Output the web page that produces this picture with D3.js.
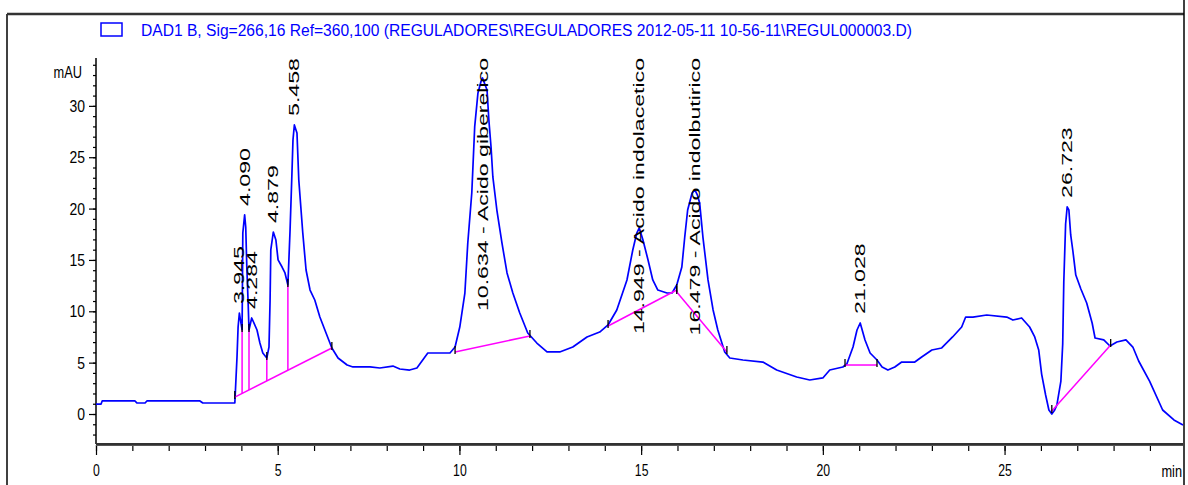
<!DOCTYPE html>
<html>
<head>
<meta charset="utf-8">
<script src="https://cdn.jsdelivr.net/npm/d3@7"></script>
<style>
  body { margin: 0; background: #fff; }
  svg { display: block; }
</style>
</head>
<body>
<svg id="chart" width="1188" height="485"></svg>
<script>
// Chromatogram signal: retention time (min) and absorbance (mAU)
const times = [
  0.00, 0.14, 0.17, 1.07, 1.13, 1.35, 1.40, 2.86, 2.94, 3.77,
  3.82, 3.85, 3.88, 3.91, 3.945, 4.02, 4.04, 4.090, 4.12, 4.15,
  4.19, 4.21, 4.284, 4.43, 4.51, 4.59, 4.70, 4.76, 4.79, 4.81,
  4.879, 4.95, 5.01, 5.12, 5.20, 5.28, 5.34, 5.39, 5.42, 5.458,
  5.53, 5.58, 5.69, 5.78, 5.89, 6.02, 6.16, 6.33, 6.49, 6.66,
  6.91, 7.07, 7.54, 7.81, 8.17, 8.36, 8.63, 8.83, 8.99, 9.13,
  9.74, 9.88, 10.01, 10.15, 10.23, 10.34, 10.42, 10.51, 10.59, 10.634,
  10.76, 10.81, 10.87, 10.92, 11.03, 11.17, 11.31, 11.47, 11.66, 11.88,
  12.13, 12.41, 12.76, 13.12, 13.51, 13.86, 14.09, 14.33, 14.61, 14.77,
  14.88, 14.949, 15.05, 15.19, 15.32, 15.46, 15.71, 15.85, 15.98, 16.12,
  16.20, 16.28, 16.40, 16.479, 16.55, 16.61, 16.70, 16.84, 16.98, 17.11,
  17.30, 17.44, 17.80, 18.35, 18.73, 19.28, 19.64, 20.00, 20.19, 20.55,
  20.66, 20.83, 20.94, 21.028, 21.16, 21.30, 21.49, 21.63, 21.79, 21.98,
  22.17, 22.53, 22.72, 23.00, 23.27, 23.57, 23.82, 23.93, 24.13, 24.51,
  25.06, 25.23, 25.47, 25.69, 25.83, 25.94, 26.02, 26.13, 26.22, 26.30,
  26.38, 26.44, 26.55, 26.60, 26.63, 26.68, 26.723, 26.77, 26.82, 26.88,
  26.96, 27.10, 27.26, 27.41, 27.49, 27.73, 27.90, 28.09, 28.34, 28.53,
  28.69, 28.99, 29.35, 29.66, 29.91
];
const mAU = [
  0.97, 0.97, 1.27, 1.27, 1.07, 1.07, 1.27, 1.27, 1.07, 1.07,
  1.07, 3.31, 5.55, 8.47, 9.83, 8.18, 17.62, 19.38, 18.21, 14.31,
  10.42, 8.18, 9.35, 8.18, 6.91, 5.94, 5.45, 6.52, 11.10, 15.97,
  17.72, 16.94, 15.00, 14.31, 13.73, 12.56, 17.92, 23.27, 26.68, 28.14,
  27.36, 22.78, 17.62, 14.02, 12.07, 11.10, 9.44, 7.89, 6.43, 5.45,
  4.77, 4.58, 4.58, 4.48, 4.67, 4.38, 4.28, 4.48, 5.26, 5.94,
  5.94, 6.52, 8.47, 11.78, 16.65, 21.52, 27.95, 31.26, 32.33, 32.72,
  31.55, 28.63, 26.00, 23.08, 19.86, 16.65, 13.73, 11.78, 9.83, 7.89,
  6.91, 6.04, 6.04, 6.52, 7.50, 7.98, 8.67, 10.13, 13.05, 15.97,
  17.62, 18.11, 16.94, 15.00, 13.05, 12.07, 11.78, 11.78, 12.56, 14.31,
  17.23, 19.86, 21.50, 21.81, 21.30, 20.55, 17.23, 13.05, 10.13, 8.18,
  6.04, 5.45, 5.26, 5.06, 4.28, 3.60, 3.31, 3.51, 4.28, 4.58,
  4.87, 6.52, 8.18, 8.86, 7.21, 5.94, 5.26, 4.58, 4.28, 4.58,
  5.06, 5.06, 5.55, 6.23, 6.43, 7.50, 8.47, 9.44, 9.44, 9.64,
  9.44, 9.15, 9.35, 8.47, 7.50, 6.23, 3.89, 1.85, 0.39, 0.00,
  0.39, 0.88, 3.21, 6.82, 12.85, 18.50, 20.16, 19.86, 17.43, 15.87,
  13.53, 12.17, 10.81, 8.86, 7.40, 7.21, 6.62, 7.01, 7.21, 6.52,
  5.16, 3.21, 0.39, -0.58, -1.07
];

// Integrated peaks: retention time and compound name
const peakTimes = [3.945, 4.090, 4.284, 4.879, 5.458, 10.634, 14.949, 16.479, 21.028, 26.723];
const peakNames = ["", "", "", "", "", "Acido giberelico", "Acido indolacetico", "Acido indolbutirico", "", ""];

// Integration baselines: [start time, start mAU] and [end time, end mAU]
const baselineStart = [[3.82, 1.65], [9.88, 6.04], [14.09, 8.57], [15.98, 11.88], [20.61, 4.77], [26.30, 0.29]];
const baselineEnd   = [[6.49, 6.43], [11.94, 7.60], [15.98, 12.07], [17.36, 6.04], [21.49, 4.77], [27.92, 6.72]];
// Valley drop lines inside the first (unresolved) group
const dropTimes = [4.02, 4.21, 4.70, 5.28];

const xTicks = [0, 5, 10, 15, 20, 25];
const yTicks = [0, 5, 10, 15, 20, 25, 30];
const legendText = "DAD1 B, Sig=266,16 Ref=360,100 (REGULADORES\\REGULADORES 2012-05-11 10-56-11\\REGUL000003.D)";

const svg = d3.select("#chart");
const H = 485;
const plot = { left: 96, right: 1183, top: 58, bottom: 444 };

const x = d3.scaleLinear().domain([0, 29.91]).range([plot.left, plot.right]);
const y = d3.scaleLinear().domain([-2.92, 34.66]).range([plot.bottom, plot.top]);

const BLUE = "#0000ff", MAGENTA = "#ff00ff";
const sans = "'Liberation Sans',Arial,sans-serif";

// squeeze text horizontally to a condensed look
function condense(sel, factor) {
  sel.each(function () {
    const n = this;
    const w = n.getComputedTextLength();
    if (w > 0) {
      n.setAttribute("textLength", w * factor);
      n.setAttribute("lengthAdjust", "spacingAndGlyphs");
    }
  });
}

const signal = times.map((t, i) => [t, mAU[i]]);
const bis = d3.bisector(d => d[0]).left;
function valueAt(t) {
  const i = bis(signal, t);
  if (i <= 0) return signal[0][1];
  if (i >= signal.length) return signal[signal.length - 1][1];
  const a = signal[i - 1], b = signal[i];
  return a[1] + (b[1] - a[1]) * (t - a[0]) / (b[0] - a[0]);
}

// Outer frame
svg.append("line").attr("x1", 7).attr("x2", 7).attr("y1", 14).attr("y2", H)
  .attr("stroke", "#000").attr("stroke-width", 1.5);
svg.append("line").attr("x1", 7).attr("x2", 1184).attr("y1", 14).attr("y2", 14)
  .attr("stroke", "#333").attr("stroke-width", 2.5);
svg.append("line").attr("x1", 1184).attr("x2", 1184).attr("y1", 0).attr("y2", H)
  .attr("stroke", "#000").attr("stroke-width", 1.5);

// Legend
svg.append("rect").attr("x", 101).attr("y", 23).attr("width", 21).attr("height", 13)
  .attr("fill", "none").attr("stroke", BLUE).attr("stroke-width", 1.5);
svg.append("text").attr("x", 141).attr("y", 36)
  .attr("font-family", sans).attr("font-size", 16).attr("fill", BLUE)
  .attr("textLength", 771).attr("lengthAdjust", "spacingAndGlyphs")
  .text(legendText);

// Y axis: minor ticks every 1 mAU, labelled every 5
const yMinor = d3.range(-2, 35, 1);
svg.append("g").attr("transform", `translate(${plot.left},0)`)
  .call(d3.axisLeft(y).tickValues(yMinor).tickSize(3).tickFormat(""))
  .call(g => g.select(".domain").remove())
  .call(g => g.selectAll("line").attr("stroke", "#000").attr("stroke-width", 1.2));
const gy = svg.append("g").attr("transform", `translate(${plot.left},0)`)
  .call(d3.axisLeft(y).tickValues(yTicks).tickSize(7).tickPadding(4).tickFormat(d3.format("d")));
gy.select(".domain").remove();
gy.selectAll("line").attr("stroke", "#000").attr("stroke-width", 1.2);
gy.selectAll("text").attr("font-family", sans).attr("font-size", 17).attr("fill", "#000")
  .call(condense, 0.82);
svg.append("line").attr("x1", plot.left).attr("x2", plot.left)
  .attr("y1", plot.top).attr("y2", plot.bottom).attr("stroke", "#000").attr("stroke-width", 1.5);
svg.append("text").attr("x", 82).attr("y", 78).attr("text-anchor", "end")
  .attr("font-family", sans).attr("font-size", 16).attr("fill", "#000").text("mAU")
  .call(condense, 0.8);

// X axis: minor ticks every minute, labelled every 5
const xMinor = d3.range(0, 30, 1);
svg.append("g").attr("transform", `translate(0,${plot.bottom + 1})`)
  .call(d3.axisBottom(x).tickValues(xMinor).tickSize(6).tickFormat(""))
  .call(g => g.select(".domain").remove())
  .call(g => g.selectAll("line").attr("stroke", "#000").attr("stroke-width", 1.2));
const gx = svg.append("g").attr("transform", `translate(0,${plot.bottom + 1})`)
  .call(d3.axisBottom(x).tickValues(xTicks).tickSize(10).tickPadding(9).tickFormat(d3.format("d")));
gx.select(".domain").remove();
gx.selectAll("line").attr("stroke", "#000").attr("stroke-width", 1.2);
gx.selectAll("text").attr("font-family", sans).attr("font-size", 17).attr("fill", "#000")
  .call(condense, 0.72);
svg.append("line").attr("x1", plot.left).attr("x2", plot.right)
  .attr("y1", plot.bottom + 0.5).attr("y2", plot.bottom + 0.5)
  .attr("stroke", "#555").attr("stroke-width", 3);
svg.append("line").attr("x1", plot.left).attr("x2", plot.right)
  .attr("y1", plot.bottom).attr("y2", plot.bottom)
  .attr("stroke", "#111").attr("stroke-width", 1.2);
svg.append("text").attr("x", plot.right - 1).attr("y", 477).attr("text-anchor", "end")
  .attr("font-family", sans).attr("font-size", 17).attr("fill", "#000").text("min")
  .call(condense, 0.75);

// Signal trace
svg.append("path").datum(signal)
  .attr("fill", "none").attr("stroke", BLUE).attr("stroke-width", 1.7)
  .attr("stroke-linejoin", "round")
  .attr("d", d3.line().x(d => x(d[0])).y(d => y(d[1])));

// Integration baselines
const bg = svg.append("g");
baselineStart.forEach((s, i) => {
  const e = baselineEnd[i];
  bg.append("line")
    .attr("x1", x(s[0])).attr("y1", y(s[1])).attr("x2", x(e[0])).attr("y2", y(e[1]))
    .attr("stroke", MAGENTA).attr("stroke-width", 1.5);
});
// step between the two touching baselines
bg.append("line")
  .attr("x1", x(baselineEnd[2][0])).attr("y1", y(baselineEnd[2][1]))
  .attr("x2", x(baselineStart[3][0])).attr("y2", y(baselineStart[3][1]))
  .attr("stroke", MAGENTA).attr("stroke-width", 1.5);

// Valley drop lines (from baseline up to the signal)
const b0s = baselineStart[0], b0e = baselineEnd[0];
const baseAt = t => b0s[1] + (b0e[1] - b0s[1]) * (t - b0s[0]) / (b0e[0] - b0s[0]);
dropTimes.forEach(t => {
  bg.append("line")
    .attr("x1", x(t)).attr("x2", x(t))
    .attr("y1", y(baseAt(t))).attr("y2", y(valueAt(t)))
    .attr("stroke", MAGENTA).attr("stroke-width", 1.5);
});

// Start / end tick markers of the integration events
const marks = baselineStart.concat(baselineEnd).concat(dropTimes.map(t => [t, valueAt(t)]));
svg.append("g").selectAll("line").data(marks).join("line")
  .attr("x1", d => x(d[0])).attr("x2", d => x(d[0]))
  .attr("y1", d => y(d[1]) - 6).attr("y2", d => y(d[1]) + 2)
  .attr("stroke", "#000").attr("stroke-width", 1.3);

// Peak labels: retention time and compound name, rotated
const stretch = 1.65;
const lg = svg.append("g");
peakTimes.forEach((t, i) => {
  const label = peakNames[i] ? `${t.toFixed(3)} -  ${peakNames[i]}` : t.toFixed(3);
  const txt = lg.append("text")
    .attr("font-family", sans).attr("font-size", 14)
    .attr("fill", "#000").attr("text-anchor", "start").attr("dy", "0.36em")
    .text(label);
  const len = txt.node().getComputedTextLength() * stretch;
  txt.attr("textLength", len).attr("lengthAdjust", "spacingAndGlyphs");
  const bottom = Math.max(y(valueAt(t)) - 9, plot.top + len);
  txt.attr("transform", `translate(${x(t)},${bottom}) rotate(-90)`);
});
</script>
</body>
</html>
